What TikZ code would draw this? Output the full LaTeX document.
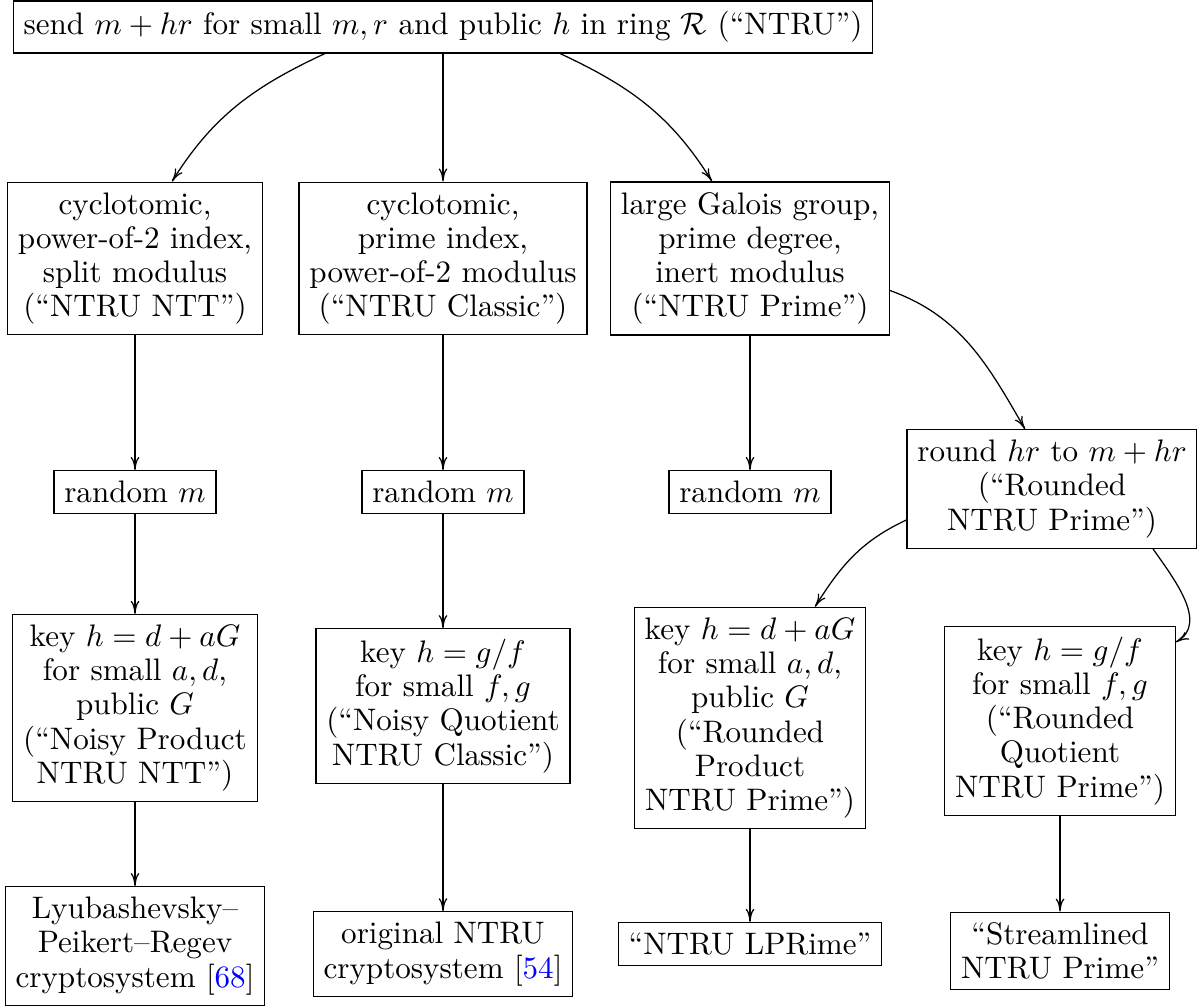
\documentclass[tikz,border=0pt]{standalone}
\usepackage{xcolor}
\usetikzlibrary{calc,arrows.meta}
\begin{document}
\begin{tikzpicture}[x=0.3215pt,y=-0.3215pt,
  box/.style={draw,align=center,inner sep=3.33pt,font=\fontsize{10}{11}\selectfont},
  arr/.style={-{Computer Modern Rightarrow[length=4.2pt,width=2.8pt]}}]
\useasboundingbox (0,0) rectangle (1197,1006);
\node[box] (top) at (443,27) {send $m+hr$ for small $m,r$ and public $h$ in ring $\mathcal{R}$ (``NTRU'')};
\node[box] (A1) at (135,258.5) {cyclotomic,\\power-of-2 index,\\split modulus\\(``NTRU NTT'')};
\node[box] (A2) at (443,258.5) {cyclotomic,\\prime index,\\power-of-2 modulus\\(``NTRU Classic'')};
\node[box] (A3) at (750,258.5) {large Galois group,\\prime degree,\\inert modulus\\(``NTRU Prime'')};
\node[box] (R1) at (135,492) {random $m$};
\node[box] (R2) at (443,492) {random $m$};
\node[box] (R3) at (750,492) {random $m$};
\node[box] (RNP) at (1052,489) {round $hr$ to $m+hr$\\(``Rounded\\NTRU Prime'')};
\node[box] (K1) at (135,708) {key $h=d+aG$\\for small $a,d$,\\public $G$\\(``Noisy Product\\NTRU NTT'')};
\node[box] (K2) at (443,706) {key $h=g/f$\\for small $f,g$\\(``Noisy Quotient\\NTRU Classic'')};
\node[box] (K3) at (750,718) {key $h=d+aG$\\for small $a,d$,\\public $G$\\(``Rounded\\Product\\NTRU Prime'')};
\node[box] (K4) at (1060,721) {key $h=g/f$\\for small $f,g$\\(``Rounded\\Quotient\\NTRU Prime'')};
\node[box] (L1) at (135,946) {Lyubashevsky--\\Peikert--Regev\\cryptosystem [\textcolor{blue}{68}]};
\node[box] (L2) at (443,954) {original NTRU\\cryptosystem [\textcolor{blue}{54}]};
\node[box] (L3) at (750,944) {``NTRU LPRime''};
\node[box] (L4) at (1060,951) {``Streamlined\\NTRU Prime''};
% top fan
\draw[arr] ($(top.south)+(-118,0)$) to[out=205,in=58] ($(A1.north)+(37,0)$);
\draw[arr] (top) -- (A2);
\draw[arr] ($(top.south)+(117,0)$) to[out=-25,in=122] ($(A3.north)+(-38,0)$);
% verticals
\draw[arr] (A1) -- (R1);
\draw[arr] (R1) -- (K1);
\draw[arr] (K1) -- (L1);
\draw[arr] (A2) -- (R2);
\draw[arr] (R2) -- (K2);
\draw[arr] (K2) -- (L2);
\draw[arr] (A3) -- (R3);
\draw[arr] (K3) -- (L3);
\draw[arr] (K4) -- (L4);
% branches
\draw[arr] ($(A3.east)+(0,32)$) to[out=-20,in=120] ($(RNP.north)+(-27,0)$);
\draw[arr] ($(RNP.west)+(0,31)$) to[out=205,in=58] ($(K3.north)+(65,0)$);
\draw[arr] ($(RNP.south)+(101,0)$) to[out=-55,in=30] ($(K4.north east)+(0,16)$);
\end{tikzpicture}
\end{document}
